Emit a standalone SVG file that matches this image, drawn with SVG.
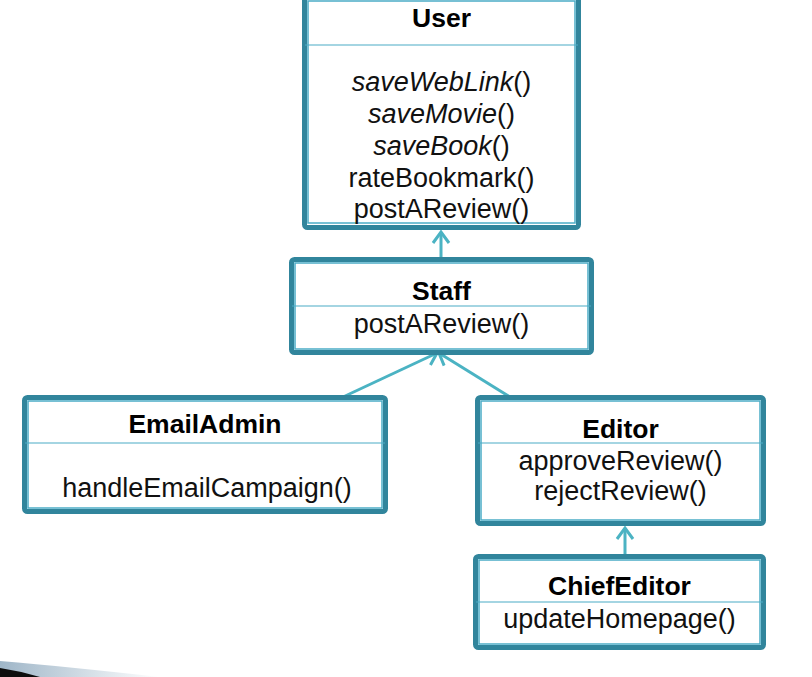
<svg xmlns="http://www.w3.org/2000/svg" width="812" height="677" viewBox="0 0 812 677">
<defs>
<style>
.outer{fill:#fff;stroke:#31859C;stroke-width:5}
.inner{fill:none;stroke:#4BACC6;stroke-width:1.5}
.div{stroke:#4BACC6;stroke-width:1.2}
.title{font-family:"Liberation Sans",Arial,sans-serif;font-weight:bold;font-size:26.5px;text-anchor:middle;fill:#000}
.m{font-family:"Liberation Sans",Arial,sans-serif;font-size:27px;text-anchor:middle;fill:#111}
.it{font-style:italic}
.conn{stroke:#4BB3C3;stroke-width:3;fill:none;marker-end:url(#open)}
</style>
<marker id="open" markerUnits="userSpaceOnUse" viewBox="0 0 14 20" refX="12" refY="10" markerWidth="14" markerHeight="20" orient="auto">
<path d="M1,2 L12,10 L1,18" fill="none" stroke="#4BB3C3" stroke-width="3"/>
</marker>
<linearGradient id="band" x1="0" y1="0" x2="1" y2="0">
<stop offset="0" stop-color="#9FB6C8"/>
<stop offset="1" stop-color="#FFFFFF"/>
</linearGradient>
</defs>
<rect width="812" height="677" fill="#fff"/>
<path d="M0,661 Q70,667 160,677 L0,677 Z" fill="url(#band)"/>
<path d="M0,668 Q20,671 40,677 L0,677 Z" fill="#0d0d0d"/>
<g id="connectors">
<line class="conn" x1="441" y1="258" x2="441" y2="232"/>
<line class="conn" x1="343" y1="397" x2="437" y2="353"/>
<line class="conn" x1="510" y1="397" x2="439" y2="353"/>
<line class="conn" x1="625" y1="554" x2="625" y2="528"/>
</g>
<g id="User">
<rect class="outer" x="304.5" y="-2.5" width="274" height="230" rx="3"/>
<rect class="inner" x="308" y="1" width="267" height="222"/>
<line class="div" x1="305" y1="45" x2="578" y2="45"/>
<text class="title" x="441.5" y="27">User</text>
<text class="m" x="441.5" y="91"><tspan class="it">saveWebLink</tspan>()</text>
<text class="m" x="441.5" y="123"><tspan class="it">saveMovie</tspan>()</text>
<text class="m" x="441.5" y="155"><tspan class="it">saveBook</tspan>()</text>
<text class="m" x="441.5" y="187">rateBookmark()</text>
<text class="m" x="441.5" y="218">postAReview()</text>
</g>
<g id="Staff">
<rect class="outer" x="291.5" y="259.5" width="300" height="93" rx="3"/>
<rect class="inner" x="295" y="263" width="293" height="86"/>
<line class="div" x1="292" y1="306" x2="591" y2="306"/>
<text class="title" x="441.5" y="300">Staff</text>
<text class="m" x="441.5" y="333">postAReview()</text>
</g>
<g id="EmailAdmin">
<rect class="outer" x="24.5" y="397.5" width="361" height="114" rx="3"/>
<rect class="inner" x="28" y="401" width="354" height="107"/>
<line class="div" x1="25" y1="443" x2="385" y2="443"/>
<text class="title" x="205" y="433">EmailAdmin</text>
<text class="m" x="207" y="497">handleEmailCampaign()</text>
</g>
<g id="Editor">
<rect class="outer" x="477.5" y="397.5" width="286" height="126" rx="3"/>
<rect class="inner" x="481" y="401" width="279" height="119"/>
<line class="div" x1="478" y1="443" x2="763" y2="443"/>
<text class="title" x="620.5" y="438">Editor</text>
<text class="m" x="620.5" y="470">approveReview()</text>
<text class="m" x="620.5" y="500">rejectReview()</text>
</g>
<g id="ChiefEditor">
<rect class="outer" x="475.5" y="556.5" width="288" height="91" rx="3"/>
<rect class="inner" x="479" y="560" width="281" height="84"/>
<line class="div" x1="476" y1="602" x2="763" y2="602"/>
<text class="title" x="619.5" y="595">ChiefEditor</text>
<text class="m" x="619.5" y="628">updateHomepage()</text>
</g>
</svg>
